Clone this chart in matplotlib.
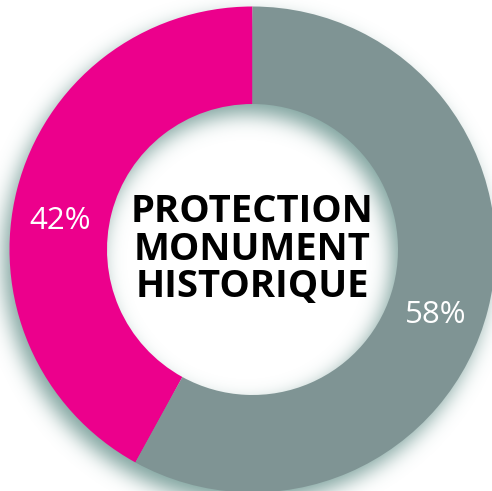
import numpy as np
import matplotlib
matplotlib.use("Agg")
import matplotlib.pyplot as plt

# data
labels = ["42%", "58%"]
shares = [42, 58]
colors = ["#ec008c", "#7f9494"]
title_lines = ["PROTECTION", "MONUMENT", "HISTORIQUE"]

W, H = 492, 491
cx, cy = 252.5, H - 249.5   # centre in pixel coords, y up
R_out, R_in = 243.0, 145.5

fig = plt.figure(figsize=(W / 100, H / 100), dpi=100)
ax = fig.add_axes([0, 0, 1, 1])
ax.axis("off")


def blur(img, sigma):
    k = np.arange(-3 * int(sigma), 3 * int(sigma) + 1)
    g = np.exp(-0.5 * (k / sigma) ** 2)
    g /= g.sum()
    out = np.apply_along_axis(lambda m: np.convolve(m, g, mode="same"), 0, img)
    out = np.apply_along_axis(lambda m: np.convolve(m, g, mode="same"), 1, out)
    return out


# soft drop shadow of the ring, offset down-left
pad = 60
yy, xx = np.mgrid[0:H + 2 * pad, 0:W + 2 * pad]
xx = xx - pad + 0.5
yy = (H + pad) - yy - 0.5
sx, sy = cx - 6, cy - 10
d = np.hypot(xx - sx, yy - sy)
ring = ((d <= R_out) & (d >= R_in)).astype(float)
sh = blur(ring, 10)[pad:-pad, pad:-pad]
rgba = np.zeros((H, W, 4))
rgba[..., 0] = 0.50
rgba[..., 1] = 0.64
rgba[..., 2] = 0.62
rgba[..., 3] = np.clip(sh * 1.0, 0, 1)
ax.imshow(rgba, extent=(0, W, 0, H), origin="upper", zorder=0, interpolation="bilinear")

ax.pie(shares, colors=colors, startangle=90, counterclock=True,
       center=(cx, cy), radius=R_out,
       wedgeprops=dict(width=R_out - R_in, linewidth=0))
ax.set_xlim(0, W)
ax.set_ylim(0, H)
ax.set_aspect("auto")

# percentage labels
label_angles = [171.6, 340.4]
for lab, ang in zip(labels, label_angles):
    r = 194
    x = cx + r * np.cos(np.radians(ang))
    y = cy + r * np.sin(np.radians(ang))
    ax.text(x, y, lab, color="white", fontsize=22.5, family="Open Sans",
            ha="center", va="center", zorder=5)

ax.text(cx, cy, "\n".join(title_lines), color="black", fontsize=27.5,
        family="Open Sans", fontweight="bold", ha="center", va="center",
        linespacing=0.98, zorder=5)

fig.savefig("out.png", dpi=100)
